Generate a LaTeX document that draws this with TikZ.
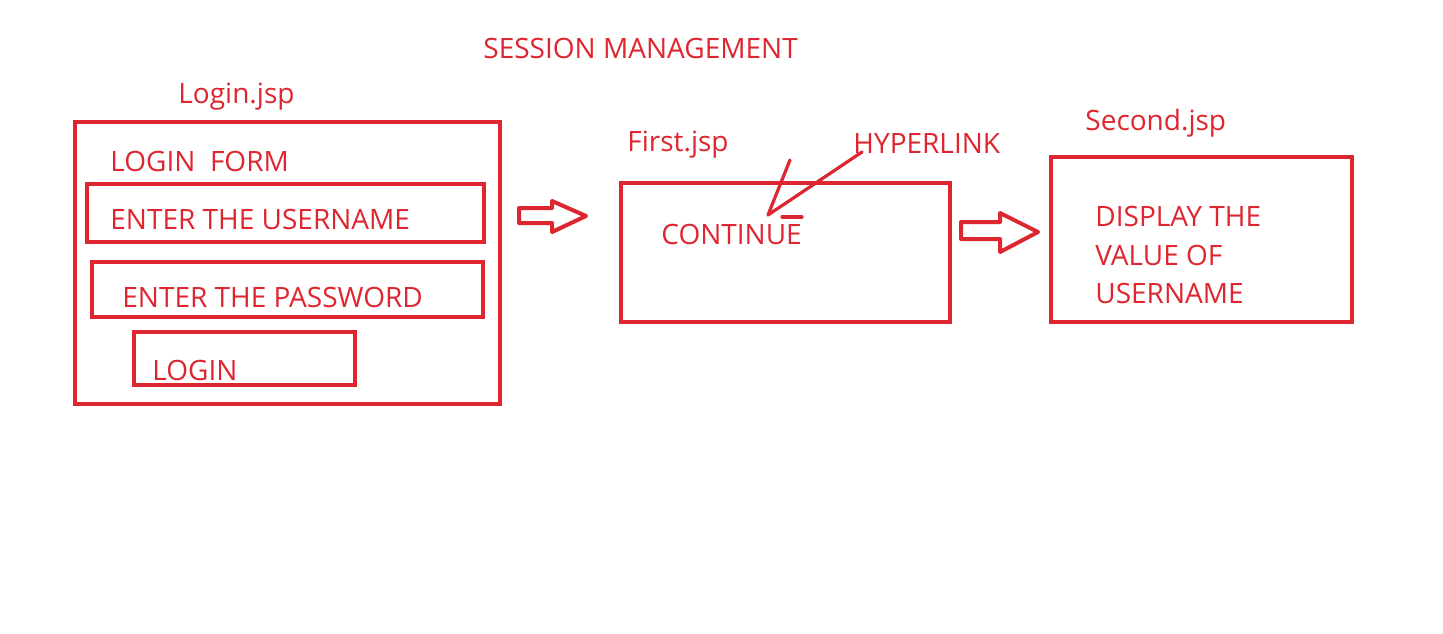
\documentclass[tikz,border=0pt]{standalone}
\usepackage{fontspec}
\setmainfont{Open Sans}
\definecolor{inkred}{RGB}{222,38,48}
\begin{document}
\begin{tikzpicture}[x=0.5pt,y=-0.5pt,
  box/.style={draw=inkred,line width=2pt},
  lbl/.style={text=inkred,anchor=base west,inner sep=0pt,font=\fontsize{14}{17}\selectfont},
  pen/.style={draw=inkred,line width=1.6pt,line cap=round,line join=round}]
\useasboundingbox[fill=white] (0,0) rectangle (1443,633);
% title
\node[lbl] (title) at (483,58) {SESSION MANAGEMENT};
% Login.jsp
\node[lbl] (loginjsp) at (178,103) {Login.jsp};
\draw[box] (75,122) rectangle (500,404);
\node[lbl] (form) at (110,171) {LOGIN\ \ FORM};
\draw[box] (87,184) rectangle (484,242);
\node[lbl] (user) at (110,229) {ENTER THE USERNAME};
\draw[box] (92,262) rectangle (483,317);
\node[lbl] (pass) at (122,307) {ENTER THE PASSWORD};
\draw[box] (134,332) rectangle (355,385);
\node[lbl] (login) at (152,380) {LOGIN};
% arrow 1
\draw[pen,line width=2pt] (519,208) -- (552,208) -- (552,201) -- (586,216) -- (552,232) -- (552,223) -- (519,223) -- cycle;
% First.jsp
\node[lbl] (firstjsp) at (627,151) {First.jsp};
\draw[box] (621,183) rectangle (950,322);
\node[lbl] (hyper) at (853,153) {HYPERLINK};
\node[lbl] (cont) at (661,244) {CONTINUE};
\coordinate (tip) at (768,215);
\draw[pen] (862,152) -- (tip) -- (790,160);
\draw[pen] (782,217) -- (802,217);
% arrow 2
\draw[pen,line width=2pt] (961,222) -- (1000,222) -- (1000,213) -- (1038,232) -- (1000,252) -- (1000,239) -- (961,239) -- cycle;
% Second.jsp
\node[lbl] (secondjsp) at (1085,130) {Second.jsp};
\draw[box] (1051,157) rectangle (1352,322);
\node[lbl] (d1) at (1095,226) {DISPLAY THE};
\node[lbl] (d2) at (1095,265) {VALUE OF};
\node[lbl] (d3) at (1095,303) {USERNAME};
\end{tikzpicture}
\end{document}
